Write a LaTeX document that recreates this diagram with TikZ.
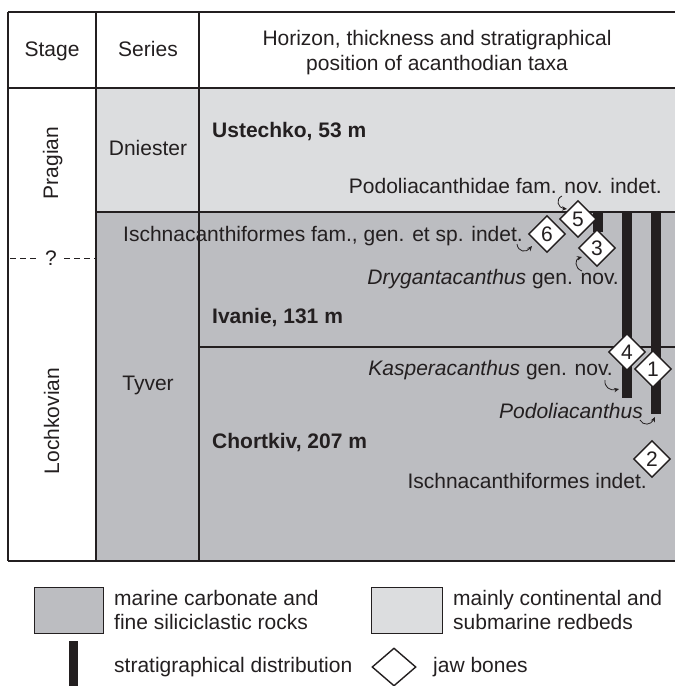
\documentclass[tikz,border=0pt]{standalone}
\usepackage{fontspec}
\setmainfont{Liberation Sans}
\usetikzlibrary{shapes.geometric,arrows.meta}
\definecolor{redbed}{HTML}{DCDDDF}
\definecolor{marine}{HTML}{BCBDC1}
\definecolor{ink}{HTML}{231F20}

\begin{document}
\begin{tikzpicture}[x=1pt, y=-1pt,
    every node/.style={font=\fontsize{21}{25}\selectfont, text=ink, inner sep=0pt},
    jaw/.style={diamond, draw=ink, fill=white, line width=1.4pt, minimum width=37pt, minimum height=37pt},
    hook/.style={ink, line width=0.8pt, -{Stealth[length=5pt,width=4.5pt]}},
    rule/.style={ink, line width=1.2pt}]
    % Fix the page size
    \useasboundingbox (0,0) rectangle (675,686);

    % Shade the rock units
    \fill[redbed] (96,88) rectangle (675,212);
    \fill[marine] (96,212) rectangle (675,561);

    % Draw the table
    \foreach \y in {12,88,561}
        \draw[rule] (8,\y) -- (675,\y);
    \draw[rule] (96,212) -- (675,212);
    \draw[rule] (199,347) -- (675,347);
    \foreach \x in {8,96,199}
        \draw[rule] (\x,12) -- (\x,561);

    % Uncertain stage boundary
    \draw[ink, line width=1pt, dash pattern=on 6pt off 4pt] (10,258) -- (38,258) (64,258) -- (96,258);
    \node (qmark) at (51,258) {?};

    % Column headers
    \node[anchor=base] (stage) at (52,56) {Stage};
    \node[anchor=base] (series) at (148,56) {Series};
    \node[anchor=base] (head1) at (437,45) {Horizon, thickness and stratigraphical};
    \node[anchor=base] (head2) at (437,70) {position of acanthodian taxa};

    % Stages and series
    \node[rotate=90, anchor=base] (pragian) at (58,163) {Pragian};
    \node[rotate=90, anchor=base] (lochkov) at (59,421) {Lochkovian};
    \node[anchor=base] (dniester) at (148,155) {Dniester};
    \node[anchor=base] (tyver) at (148,390) {Tyver};

    % Horizons
    \node[anchor=base west] (ustechko) at (212,137) {\bfseries Ustechko, 53 m};
    \node[anchor=base west] (ivanie) at (212,323) {\bfseries Ivanie, 131 m};
    \node[anchor=base west] (chortkiv) at (212,448) {\bfseries Chortkiv, 207 m};

    % Stratigraphical distribution
    \foreach \x/\y in {593/232, 622/398, 651/414}
        \fill[ink] (\x,212) rectangle (\x+10,\y);

    % Jaw bones
    \foreach \n/\x/\y in {5/578/219, 6/547/234, 3/597/248, 4/627/352, 1/653/369, 2/652/459}
        \node[jaw] (jaw\n) at (\x,\y) {\n};

    % Taxa
    \node[anchor=base east] (podfam) at (662,193) {Podoliacanthidae fam. nov. indet.};
    \node[anchor=base west] (ischfam) at (123,241) {Ischnacanthiformes fam., gen. et sp. indet.};
    \node[anchor=base east] (dryg) at (619,284) {\textit{Drygantacanthus} gen. nov.};
    \node[anchor=base east] (kasp) at (613,375) {\textit{Kasperacanthus} gen. nov.};
    \node[anchor=base east] (podo) at (643,418) {\textit{Podoliacanthus}};
    \node[anchor=base east] (ischind) at (647,488) {Ischnacanthiformes indet.};

    % Pointers from taxa
    \coordinate (p5a) at (562,196);  \coordinate (p5b) at (567,209);
    \coordinate (p6a) at (517,244);  \coordinate (p6b) at (532,246);
    \coordinate (p3a) at (582,271);  \coordinate (p3b) at (582,257);
    \coordinate (p4a) at (605,380);  \coordinate (p4b) at (619,389);
    \coordinate (p1a) at (640,420);  \coordinate (p1b) at (655,417);
    \draw[hook] (p5a) .. controls (555,199) and (558,208) .. (p5b);
    \draw[hook] (p6a) .. controls (518,252) and (526,253) .. (p6b);
    \draw[hook] (p3a) .. controls (574,268) and (575,259) .. (p3b);
    \draw[hook] (p4a) .. controls (604,387) and (610,391) .. (p4b);
    \draw[hook] (p1a) .. controls (643,426) and (651,425) .. (p1b);

    % Legend
    \draw[ink, line width=1pt, fill=marine] (34,587) rectangle (103,633);
    \draw[ink, line width=1pt, fill=redbed] (371,587) rectangle (442,633);
    \fill[ink] (69,641) rectangle (78,686);
    \node[jaw, minimum width=44pt, minimum height=38pt] (jawkey) at (394,667) {};
    \node[anchor=base west] (keymar1) at (114,605) {marine carbonate and};
    \node[anchor=base west] (keymar2) at (114,629) {fine siliciclastic rocks};
    \node[anchor=base west] (keyred1) at (453,605) {mainly continental and};
    \node[anchor=base west] (keyred2) at (453,629) {submarine redbeds};
    \node[anchor=base west] (keybar) at (114,672) {stratigraphical distribution};
    \node[anchor=base west] (keyjaw) at (433,672) {jaw bones};
\end{tikzpicture}
\end{document}
